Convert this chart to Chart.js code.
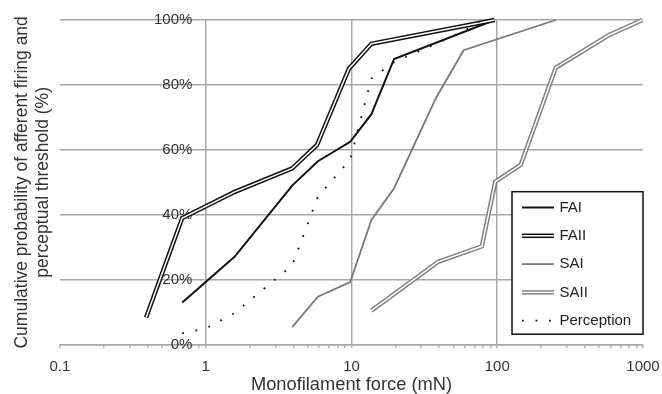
<!DOCTYPE html>
<html>
<head>
<meta charset="utf-8">
<script src="https://cdn.jsdelivr.net/npm/chart.js@4"></script>
<style>
    html, body { margin: 0; padding: 0; background: #fff; }
    #wrap { width: 662px; height: 394px; position: relative; }
</style>
</head>
<body>
<div id="wrap"><canvas id="thresholdChart"></canvas></div>
<script>
// force (mN) and cumulative % for each group
const faiForce = [0.69, 1.57, 3.92, 5.88, 9.8, 13.7, 19.6, 96];
const faiPct = [13, 27, 49, 56.5, 62.5, 71, 88, 100];

const faiiForce = [0.39, 0.69, 1.57, 3.92, 5.8, 9.6, 13.7, 96];
const faiiPct = [8.4, 39, 47, 54.3, 61.5, 85, 92.7, 100];

const saiForce = [3.92, 5.88, 9.8, 13.7, 19.6, 38, 58.8, 252];
const saiPct = [5.4, 14.8, 19.3, 38.4, 48.2, 76, 90.7, 100];

const saiiForce = [13.7, 39.2, 78.4, 97, 145, 252, 580, 990];
const saiiPct = [10.5, 25.5, 30.3, 50.2, 55.4, 85.3, 95.3, 100];

const perceptionForce = [0.69, 1.0, 1.57, 3.92, 5.88, 9.8, 13.7, 19.6, 39.2, 58.8, 78.4];
const perceptionPct = [3.5, 5, 9.7, 24.4, 45.6, 57, 82, 87, 93, 96.5, 100];

// axis ticks
const xDecades = [0.1, 1, 10, 100];
const xMajorValues = [0.1, 1, 10, 100, 1000];
const xMajorLabels = ['0.1', '1', '10', '100', '1000'];
const xGridValues = [1, 10, 100];

const GRID = '#a8a8a8';
const TEXT = '#333';
Chart.defaults.font.family = '"Liberation Sans", Arial, sans-serif';

const xTickValues = [];
xDecades.forEach(d => {
    for (let k = 1; k <= 9; k++) xTickValues.push(+(d * k).toPrecision(3));
});
xTickValues.push(1000);

function points(xs, ys) {
    return xs.map((x, i) => ({ x: x, y: ys[i] }));
}

function sameValue(a, b) {
    return Math.abs(Math.log10(a) - Math.log10(b)) < 1e-6;
}

// legend box in the lower right corner of the plot
const boxLegend = {
    id: 'boxLegend',
    afterDraw(chart) {
        const { ctx, chartArea } = chart;
        const sets = chart.data.datasets;
        const items = sets.filter(d => d.label);
        const w = 131, rowH = 28.3;
        const h = items.length * rowH + 1;
        const left = chartArea.right - w;
        const top = chartArea.bottom - 10.5 - h;

        ctx.save();
        ctx.fillStyle = '#fff';
        ctx.fillRect(left, top, w, h);
        ctx.lineWidth = 1.5;
        ctx.strokeStyle = '#111';
        ctx.strokeRect(left, top, w, h);

        items.forEach((d, i) => {
            const y = top + 15.8 + i * rowH;
            const inner = sets.find(s => s.innerOf === d.label);
            const layers = inner ? [d, inner] : [d];
            layers.forEach(s => {
                ctx.beginPath();
                ctx.setLineDash(s.borderDash || []);
                ctx.lineWidth = s.borderWidth;
                ctx.strokeStyle = s.borderColor;
                ctx.moveTo(left + 10, y);
                ctx.lineTo(left + 42, y);
                ctx.stroke();
            });
            ctx.setLineDash([]);
            ctx.fillStyle = '#222';
            ctx.font = '15px "Liberation Sans", Arial, sans-serif';
            ctx.textBaseline = 'middle';
            ctx.fillText(d.label, left + 47.5, y);
        });
        ctx.restore();
    }
};

const ctx = document.getElementById('thresholdChart').getContext('2d');

new Chart(ctx, {
    type: 'line',
    data: {
        datasets: [
            { label: 'FAI', data: points(faiForce, faiPct), borderColor: '#111', borderWidth: 2, order: 3 },
            { label: 'FAII', data: points(faiiForce, faiiPct), borderColor: '#111', borderWidth: 4.5, order: 2 },
            { label: '', innerOf: 'FAII', data: points(faiiForce, faiiPct), borderColor: '#fff', borderWidth: 1.5, order: 1 },
            { label: 'SAI', data: points(saiForce, saiPct), borderColor: '#787878', borderWidth: 1.8, order: 5 },
            { label: 'SAII', data: points(saiiForce, saiiPct), borderColor: '#808080', borderWidth: 4.5, order: 7 },
            { label: '', innerOf: 'SAII', data: points(saiiForce, saiiPct), borderColor: '#fff', borderWidth: 1.5, order: 6 },
            { label: 'Perception', data: points(perceptionForce, perceptionPct), borderColor: '#111', borderWidth: 1.8, borderDash: [1.8, 11.7], order: 0 }
        ]
    },
    options: {
        animation: false,
        maintainAspectRatio: false,
        layout: {
            padding: { left: 8, top: 20, right: 0, bottom: 0 }
        },
        elements: {
            line: { tension: 0, fill: false, borderJoinStyle: 'miter', borderCapStyle: 'butt' },
            point: { radius: 0 }
        },
        datasets: {
            line: { clip: 8 }
        },
        scales: {
            x: {
                type: 'logarithmic',
                min: 0.1,
                max: 1000,
                afterBuildTicks: scale => {
                    scale.ticks = xTickValues.map(v => ({ value: v }));
                },
                afterFit: scale => {
                    // keep the plot's right edge close to the canvas edge like the original
                    scale.paddingRight = 19;
                },
                ticks: {
                    autoSkip: false,
                    maxRotation: 0,
                    padding: 10,
                    color: TEXT,
                    font: { size: 15 },
                    callback: value => {
                        const i = xMajorValues.findIndex(m => sameValue(m, value));
                        return i >= 0 ? xMajorLabels[i] : '';
                    }
                },
                grid: {
                    lineWidth: 1.5,
                    tickLength: 3,
                    tickColor: GRID,
                    color: c => (c.tick && xGridValues.some(g => sameValue(g, c.tick.value))) ? GRID : 'rgba(0,0,0,0)'
                },
                border: { color: GRID, width: 1.5 },
                title: {
                    display: true,
                    text: 'Monofilament force (mN)',
                    color: TEXT,
                    font: { size: 18.3, lineHeight: 1 },
                    padding: { top: -10, bottom: 0 }
                }
            },
            y: {
                type: 'linear',
                position: { x: 0.81 },
                min: 0,
                max: 100,
                ticks: {
                    stepSize: 20,
                    color: TEXT,
                    font: { size: 15 },
                    callback: v => v + '%'
                },
                grid: { color: GRID, lineWidth: 1.5, drawTicks: false },
                border: { display: false }
            },
            yTitle: {
                type: 'linear',
                position: 'left',
                min: 0,
                max: 100,
                ticks: { display: false },
                grid: { display: false, drawTicks: false },
                border: { display: false },
                title: {
                    display: true,
                    text: ['Cumulative probability of afferent firing and', 'perceptual threshold (%)'],
                    color: TEXT,
                    font: { size: 17.5, lineHeight: 1.17 },
                    padding: { top: 4, bottom: 7 }
                }
            }
        },
        plugins: {
            legend: { display: false },
            tooltip: { enabled: false }
        }
    },
    plugins: [boxLegend]
});
</script>
</body>
</html>
